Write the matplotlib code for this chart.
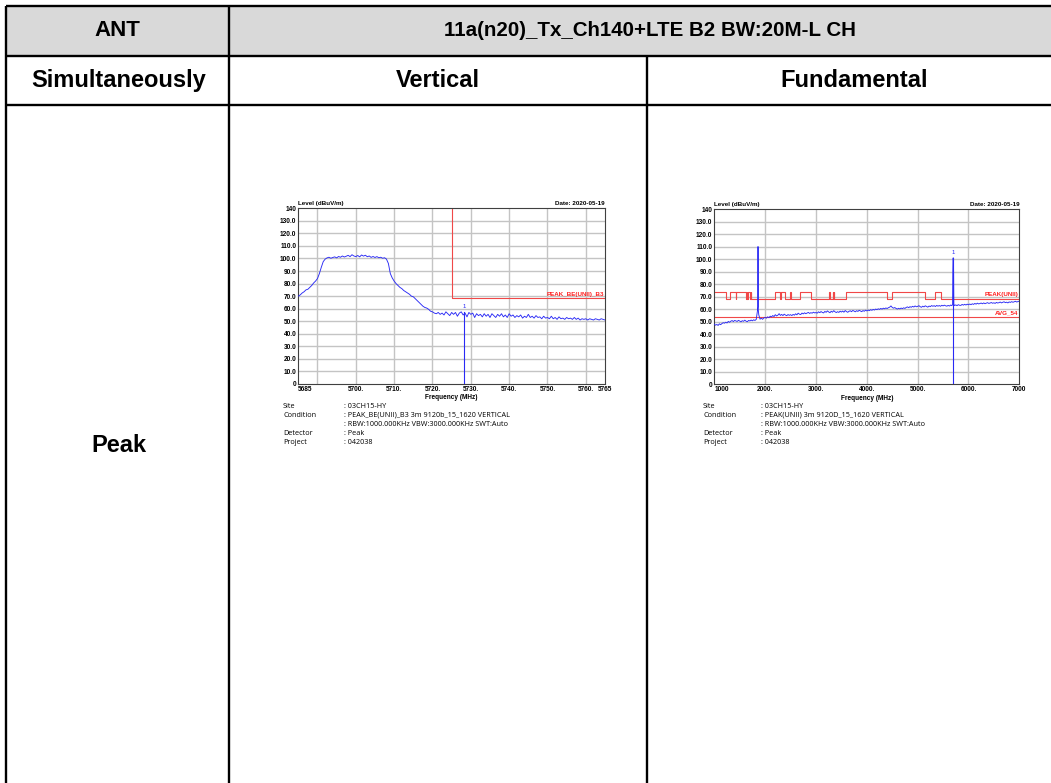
import numpy as np
import matplotlib
matplotlib.use("Agg")
import matplotlib.pyplot as plt
from matplotlib.patches import Rectangle

# ---------------- table content ----------------
header_ant = "ANT"
header_mode = "11a(n20)_Tx_Ch140+LTE B2 BW:20M-L CH"
row2_labels = ["Simultaneously", "Vertical", "Fundamental"]
row3_label = "Peak"

# ---------------- common level axis ----------------
level_ticks = [0, 10, 20, 30, 40, 50, 60, 70, 80, 90, 100, 110, 120, 130, 140]
level_tick_labels = ["0", "10.0", "20.0", "30.0", "40.0", "50.0", "60.0", "70.0",
                     "80.0", "90.0", "100.0", "110.0", "120.0", "130.0", "140"]
date_text = "Date: 2020-05-19"

# ---------------- band-edge sweep (Vertical) ----------------
be_start, be_stop = 5685, 5765
be_grid = [5690, 5700, 5710, 5720, 5730, 5740, 5750, 5760]
be_ticks = [5685, 5700, 5710, 5720, 5730, 5740, 5750, 5760, 5765]
be_tick_labels = ["5685", "5700.", "5710.", "5720.", "5730.", "5740.", "5750.", "5760.", "5765"]
be_levels = [
    70.0, 71.0, 72.5, 73.5, 75.0, 75.5, 77.0, 78.5, 80.5, 82.0,
    84.0, 88.0, 93.0, 97.5, 99.5, 100.5, 101.0, 100.2, 100.8, 101.3,
    100.5, 101.6, 101.0, 102.0, 101.2, 101.8, 102.5, 101.5, 103.0, 102.0,
    101.5, 102.4, 101.3, 102.8, 101.9, 102.6, 101.4, 102.0, 100.9, 101.6,
    100.8, 101.5, 100.6, 101.0, 100.2, 100.6, 99.5, 96.0, 88.0, 84.5,
    82.0, 80.0, 78.5, 77.0, 76.0, 74.5, 73.5, 72.5, 71.5, 70.0,
    69.5, 68.0, 66.5, 65.0, 63.5, 62.0, 61.0, 60.5, 59.5, 58.0,
    57.5, 56.5, 56.0, 57.0, 55.5, 56.5, 55.0, 57.5, 56.0, 54.5,
    57.0, 55.5, 57.0, 54.0, 56.5, 57.5, 55.0, 56.5, 53.5, 57.0,
    55.5, 56.5, 53.0, 56.0, 54.5, 55.5, 53.5, 56.0, 54.0, 55.5,
    53.0, 56.0, 54.5, 53.0, 55.5, 54.0, 56.0, 53.5, 55.0, 53.0,
    56.0, 54.0, 55.0, 53.0, 54.5, 53.5, 55.0, 52.5, 54.0, 53.0,
    55.5, 53.0, 54.0, 52.5, 54.5, 53.0, 53.5, 52.0, 54.0, 52.5,
    53.0, 52.0, 54.0, 52.0, 53.0, 51.5, 53.5, 52.0, 52.5, 51.5,
    53.0, 52.0, 52.5, 51.5, 53.0, 51.5, 52.5, 51.0, 52.0, 51.5,
    52.0, 51.0, 52.0, 51.5, 51.0, 52.0, 51.5, 51.0, 52.0, 51.5,
    51.0,
]
be_limit_edge = 5725.2
be_limit_level = 68.2
be_limit_name = "PEAK_BE(UNII)_B3"
be_marker_freq = 5728.3
be_marker_level = 57.5

# ---------------- wide sweep (Fundamental) ----------------
fd_start, fd_stop = 1000, 7000
fd_grid = [2000, 3000, 4000, 5000, 6000]
fd_ticks = [1000, 2000, 3000, 4000, 5000, 6000, 7000]
fd_tick_labels = ["1000", "2000.", "3000.", "4000.", "5000.", "6000.", "7000"]
fd_levels = [
    48.0, 47.2, 47.8, 47.0, 48.3, 47.6, 48.5, 49.2, 48.8, 49.6, 49.0, 50.2, 49.5, 50.4, 50.9, 50.1, 51.0, 50.6, 50.2, 51.1,
    50.5, 49.9, 50.8, 50.3, 51.2, 50.4, 50.0, 51.0, 50.6, 51.3, 50.7, 51.5, 51.0, 51.8, 59.0, 55.5, 52.0, 52.8, 51.9, 53.0,
    53.4, 52.8, 53.9, 53.2, 54.4, 53.8, 54.9, 54.1, 55.6, 54.6, 55.2, 56.4, 55.0, 55.8, 54.9, 56.0, 55.3, 54.8, 55.7, 55.1,
    55.6, 54.9, 55.8, 55.2, 56.3, 55.5, 56.8, 56.0, 55.7, 56.9, 56.2, 57.1, 56.4, 56.9, 57.4, 56.6, 57.2, 56.8, 57.6, 57.0,
    57.3, 56.8, 57.9, 57.2, 58.1, 57.4, 57.0, 58.2, 57.5, 58.6, 57.8, 57.2, 58.3, 57.6, 58.8, 57.9, 57.3, 58.0, 57.4, 58.4,
    57.7, 58.5, 57.6, 58.9, 58.1, 57.5, 58.3, 58.7, 58.0, 59.0, 58.4, 57.9, 58.8, 58.2, 59.1, 58.5, 58.0, 58.9, 58.3, 59.2,
    58.6, 59.3, 58.8, 59.6, 59.1, 59.8, 59.3, 60.1, 59.6, 60.3, 59.8, 60.6, 60.0, 60.8, 60.3, 61.0, 60.5, 61.2, 61.6, 62.6,
    61.4, 60.8, 61.3, 60.6, 60.1, 60.7, 60.2, 60.9, 60.4, 61.1, 60.6, 61.4, 61.8, 61.2, 62.0, 61.5, 62.3, 61.7, 62.6, 61.9,
    62.2, 62.8, 62.0, 61.5, 62.4, 61.8, 62.7, 62.1, 61.6, 62.5, 62.0, 62.9, 62.3, 62.8, 62.1, 63.0, 62.4, 62.9, 62.3, 63.1,
    62.6, 63.2, 62.7, 62.4, 63.0, 62.5, 63.3, 62.8, 63.5, 62.9, 63.4, 62.8, 63.6, 63.1, 63.0, 63.8, 63.2, 63.9, 63.3, 64.0,
    63.5, 64.1, 63.6, 64.3, 63.8, 64.6, 64.0, 64.8, 64.2, 64.5, 64.9, 64.3, 65.0, 64.4, 64.8, 65.2, 64.6, 64.9, 65.3, 64.7,
    65.1, 64.6, 65.4, 64.9, 65.2, 65.7, 65.0, 65.5, 65.9, 65.2, 65.6, 65.0, 65.8, 65.4, 66.0, 65.5, 65.9, 66.3, 65.7, 66.1,
    66.4,
]
# narrow carriers seen in the wide sweep
lte_freq = [1856, 1858, 1860, 1862, 1864]
lte_level = [62.0, 82.0, 110.0, 80.0, 60.0]
wlan_freq = [5688, 5692, 5696, 5700, 5704, 5708, 5712]
wlan_level = [64.0, 90.0, 100.0, 101.0, 99.0, 88.0, 64.0]

# restricted bands (MHz) -> peak limit 74, elsewhere 68.2
restricted_bands = [
    (960, 1240), (1300, 1427), (1435, 1626.5), (1645.5, 1646.5), (1660, 1710),
    (1718.8, 1722.2), (2200, 2300), (2310, 2390), (2483.5, 2500), (2690, 2900),
    (3260, 3267), (3332, 3339), (3345.8, 3358), (3600, 4400), (4500, 5150),
    (5350, 5460),
]
peak_restricted = 74.0
peak_unii = 68.2
avg_limit = 54.0
fd_peak_name = "PEAK(UNII)"
fd_avg_name = "AVG_54"
fd_marker_freq = 5700
fd_marker_level = 101.0

# ---------------- footer text ----------------
info_keys = ["Site", "Condition", "", "Detector", "Project"]
be_info = [": 03CH15-HY", ": PEAK_BE(UNII)_B3 3m 9120b_15_1620 VERTICAL",
           ": RBW:1000.000KHz VBW:3000.000KHz SWT:Auto", ": Peak", ": 042038"]
fd_info = [": 03CH15-HY", ": PEAK(UNII) 3m 9120D_15_1620 VERTICAL",
           ": RBW:1000.000KHz VBW:3000.000KHz SWT:Auto", ": Peak", ": 042038"]

# ======================================================================
W, H = 1051, 783
fig = plt.figure(figsize=(W / 100, H / 100), dpi=100)
fig.patch.set_facecolor("white")

# table drawn in pixel coordinates
tab = fig.add_axes([0, 0, 1, 1])
tab.set_xlim(0, W)
tab.set_ylim(H, 0)
tab.axis("off")

x_l, x_c1, x_c2, x_r = 6, 229, 647, W
y_t, y_r1, y_r2 = 6, 56, 105
tab.add_patch(Rectangle((x_l, y_t), x_r - x_l, y_r1 - y_t, facecolor="#d9d9d9", edgecolor="none"))
lw_tab = 1.7
for y in (y_t, y_r1, y_r2):
    tab.plot([x_l, x_r], [y, y], color="black", lw=lw_tab, solid_capstyle="butt")
tab.plot([x_l, x_l], [y_t, H], color="black", lw=lw_tab, solid_capstyle="butt")
tab.plot([x_c1, x_c1], [y_t, H], color="black", lw=lw_tab, solid_capstyle="butt")
tab.plot([x_c2, x_c2], [y_r1, H], color="black", lw=lw_tab, solid_capstyle="butt")

hfont = dict(family="Liberation Sans", weight="bold", ha="center", va="center")
tab.text((x_l + x_c1) / 2, (y_t + y_r1) / 2, header_ant, fontsize=16, **hfont)
tab.text((x_c1 + x_r) / 2 + 10, (y_t + y_r1) / 2, header_mode, fontsize=14.8, **hfont)
tab.text((x_l + x_c1) / 2 + 1, (y_r1 + y_r2) / 2, row2_labels[0], fontsize=17, **hfont)
tab.text((x_c1 + x_c2) / 2, (y_r1 + y_r2) / 2, row2_labels[1], fontsize=17, **hfont)
tab.text((x_c2 + x_r) / 2 + 5, (y_r1 + y_r2) / 2, row2_labels[2], fontsize=17, **hfont)
tab.text((x_l + x_c1) / 2 + 1, 446, row3_label, fontsize=17, **hfont)

TRACE = "#2a2af5"
LIMIT = "#f04848"
GRID = "#c4c4c4"
small_bold = dict(family="Liberation Sans", weight="bold")


def make_spectrum_axes(px_left, px_right, px_top, px_bottom):
    ax = fig.add_axes([px_left / W, 1 - px_bottom / H,
                       (px_right - px_left) / W, (px_bottom - px_top) / H])
    ax.set_facecolor("white")
    for sp in ax.spines.values():
        sp.set_color("#404040")
        sp.set_linewidth(0.8)
    ax.set_ylim(0, 140)
    ax.set_yticks(level_ticks, level_tick_labels)
    ax.tick_params(axis="both", length=0, labelsize=4.7, pad=1.5)
    for lab in ax.get_yticklabels():
        lab.set_fontfamily("Liberation Sans")
        lab.set_fontweight("bold")
    for y in level_ticks[1:-1]:
        ax.axhline(y, color=GRID, lw=1.0, zorder=0)
    return ax


def finish_x_axis(ax, ticks, labels, grid):
    ax.set_xticks(ticks, labels)
    for lab in ax.get_xticklabels():
        lab.set_fontfamily("Liberation Sans")
        lab.set_fontweight("bold")
    ax.get_xticklabels()[0].set_horizontalalignment("left")
    for x in grid:
        ax.axvline(x, color=GRID, lw=1.0, zorder=0)
    ax.set_xlabel("Frequency (MHz)", fontsize=4.7, labelpad=1, **small_bold)
    ax.text(0.0, 1.012, "Level (dBuV/m)", transform=ax.transAxes, fontsize=4.5,
            ha="left", va="bottom", **small_bold)
    ax.text(1.0, 1.012, date_text, transform=ax.transAxes, fontsize=4.5,
            ha="right", va="bottom", **small_bold)


# ---------------- Vertical (band edge) ----------------
ax1 = make_spectrum_axes(298.3, 605, 208.3, 384)
ax1.set_xlim(be_start, be_stop)
be_freq = np.linspace(be_start, be_stop, len(be_levels))
ax1.plot(be_freq, be_levels, color=TRACE, lw=0.65, zorder=3)
ax1.plot([be_limit_edge, be_limit_edge, be_stop], [140, be_limit_level, be_limit_level],
         color=LIMIT, lw=0.8, zorder=2)
ax1.text(be_stop - 0.3, be_limit_level + 1.2, be_limit_name, color="#ff2020",
         fontsize=4.5, ha="right", va="bottom", **small_bold)
ax1.plot([be_marker_freq, be_marker_freq], [0, be_marker_level], color=TRACE, lw=0.8, zorder=4)
ax1.text(be_marker_freq, be_marker_level + 2, "1", color=TRACE, fontsize=4.3,
         ha="center", va="bottom", family="Liberation Sans")
finish_x_axis(ax1, be_ticks, be_tick_labels, be_grid)

# ---------------- Fundamental (wide sweep) ----------------
ax2 = make_spectrum_axes(714.3, 1019.3, 209, 384.3)
ax2.set_xlim(fd_start, fd_stop)
fd_freq = np.linspace(fd_start, fd_stop, len(fd_levels))
keep = np.ones(len(fd_freq), dtype=bool)
for fs in (lte_freq, wlan_freq):
    keep &= ~((fd_freq >= min(fs)) & (fd_freq <= max(fs)))
all_f = np.concatenate([fd_freq[keep], lte_freq, wlan_freq])
all_l = np.concatenate([np.asarray(fd_levels)[keep], lte_level, wlan_level])
order = np.argsort(all_f, kind="stable")
ax2.plot(all_f[order], all_l[order], color=TRACE, lw=0.65, zorder=3)

# stepped peak limit
lim_x, lim_y = [fd_start], [peak_unii]
for lo, hi in restricted_bands:
    lo_c, hi_c = max(lo, fd_start), min(hi, fd_stop)
    if lo_c <= fd_start:
        lim_y[0] = peak_restricted
        lim_x += [hi_c, hi_c]
        lim_y += [peak_restricted, peak_unii]
    else:
        lim_x += [lo_c, lo_c, hi_c, hi_c]
        lim_y += [peak_unii, peak_restricted, peak_restricted, peak_unii]
lim_x.append(fd_stop)
lim_y.append(peak_unii)
ax2.plot(lim_x, lim_y, color=LIMIT, lw=0.8, zorder=2)
ax2.axhline(avg_limit, color=LIMIT, lw=0.8, zorder=2)
ax2.text(fd_stop - 20, peak_unii + 1.2, fd_peak_name, color="#ff2020",
         fontsize=4.5, ha="right", va="bottom", **small_bold)
ax2.text(fd_stop - 20, avg_limit + 1.2, fd_avg_name, color="#ff2020",
         fontsize=4.5, ha="right", va="bottom", **small_bold)
ax2.plot([fd_marker_freq, fd_marker_freq], [0, fd_marker_level], color=TRACE, lw=0.8, zorder=4)
ax2.text(fd_marker_freq, fd_marker_level + 2, "1", color=TRACE, fontsize=4.3,
         ha="center", va="bottom", family="Liberation Sans")
finish_x_axis(ax2, fd_ticks, fd_tick_labels, fd_grid)

# ---------------- footer text ----------------
info_rows_y = [406, 415.5, 424, 433.5, 442]
for (kx, vx, values) in ((283, 344, be_info), (703, 761, fd_info)):
    for key, val, y in zip(info_keys, values, info_rows_y):
        if key:
            tab.text(kx, y, key, fontsize=5.2, family="Open Sans", ha="left", va="center")
        tab.text(vx, y, val, fontsize=5.2, family="Open Sans", ha="left", va="center")

fig.savefig("out.png", dpi=100)
